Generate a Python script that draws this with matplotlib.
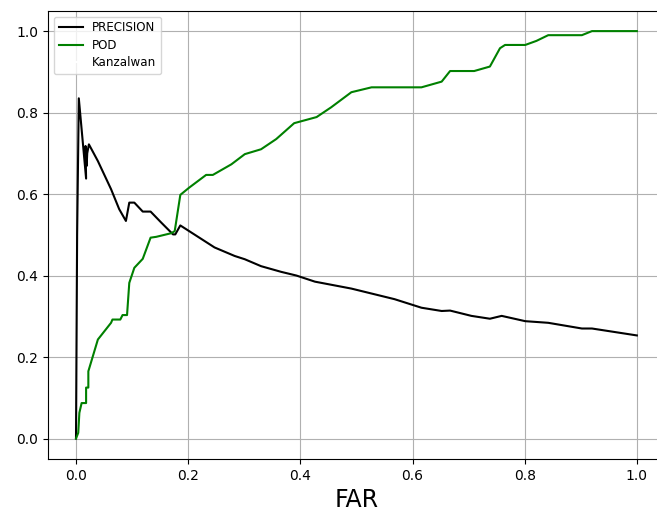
import matplotlib
matplotlib.use("Agg")
import matplotlib.pyplot as plt

# FAR / PRECISION curve
far_prec = [0.0, 0.002, 0.005, 0.018, 0.017, 0.019, 0.020, 0.023, 0.039, 0.0625,
            0.077, 0.089, 0.095, 0.104, 0.119, 0.133, 0.152, 0.173, 0.177, 0.186,
            0.247, 0.283, 0.301, 0.330, 0.366, 0.393, 0.426, 0.491, 0.568, 0.616,
            0.652, 0.667, 0.705, 0.738, 0.759, 0.801, 0.842, 0.902, 0.920, 1.0]
precision = [0.0, 0.50, 0.835, 0.638, 0.718, 0.669, 0.700, 0.722, 0.681, 0.612,
             0.563, 0.534, 0.579, 0.579, 0.557, 0.557, 0.530, 0.501, 0.501, 0.523,
             0.469, 0.448, 0.440, 0.423, 0.409, 0.400, 0.385, 0.368, 0.342, 0.321,
             0.313, 0.314, 0.301, 0.294, 0.301, 0.288, 0.284, 0.270, 0.270, 0.253]

# FAR / POD curve
far_pod = [0.0, 0.004, 0.006, 0.010, 0.018, 0.018, 0.022, 0.022, 0.039, 0.0625,
           0.065, 0.079, 0.083, 0.091, 0.095, 0.104, 0.119, 0.133, 0.143, 0.170,
           0.176, 0.186, 0.202, 0.232, 0.244, 0.277, 0.301, 0.330, 0.357, 0.389,
           0.429, 0.455, 0.491, 0.527, 0.580, 0.616, 0.652, 0.667, 0.710, 0.738,
           0.756, 0.765, 0.801, 0.821, 0.842, 0.902, 0.920, 1.0]
pod = [0.0, 0.014, 0.063, 0.087, 0.087, 0.125, 0.125, 0.165, 0.243, 0.284,
       0.292, 0.292, 0.303, 0.303, 0.382, 0.419, 0.441, 0.493, 0.495, 0.504,
       0.509, 0.598, 0.616, 0.647, 0.647, 0.673, 0.698, 0.710, 0.735, 0.774,
       0.789, 0.813, 0.850, 0.862, 0.862, 0.862, 0.876, 0.902, 0.902, 0.913,
       0.958, 0.966, 0.966, 0.976, 0.990, 0.990, 1.0, 1.0]

fig = plt.figure(figsize=(6.57, 5.11), dpi=100)
# the right spine runs just past the edge of the picture, like the reference crop
ax = fig.add_axes([0.073, 0.102, 0.939, 0.877])

ax.plot(far_prec, precision, color="black", label="PRECISION")
ax.plot(far_pod, pod, color="green", label="POD")
ax.plot([], [], color="white", label="Kanzalwan")

ax.set_xlabel("FAR", fontsize=17)
ax.grid(True)
ax.legend(loc="upper left", fontsize=8.6, labelspacing=0.37)

fig.savefig("out.png", dpi=100)
